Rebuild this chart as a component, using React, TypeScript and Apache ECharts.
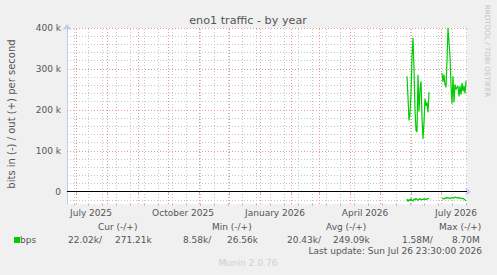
import React, { useEffect, useRef } from 'react';
import * as echarts from 'echarts';

const DAY = 86400000;
const rangeStart = '2025-06-22';
const rangeDays = 400;

// traffic, kbit/s (out = +, in = -)
const seg1Start = '2026-05-28';
const seg1Out = [282, 230, 174, 190, 240, 330, 376, 300, 200, 150, 146, 286, 196, 250, 270, 180, 129, 170, 227, 210, 218, 194, 243];
const seg1In = [18, 24, 19, 22, 17, 21, 23, 18, 20, 16, 19, 21, 18, 17, 20, 19, 18, 20, 17, 19, 18, 17, 16];
const seg2Start = '2026-07-02';
const seg2Out = [290, 268, 286, 262, 255, 320, 400, 365, 330, 260, 215, 282, 218, 262, 250, 255, 258, 233, 258, 237, 266, 245, 258, 240, 271];
const seg2In = [17, 16, 18, 15, 16, 14, 16, 15, 17, 15, 14, 16, 15, 13, 14, 15, 14, 16, 15, 16, 17, 16, 18, 20, 22];

const yTickValues = [0, 100, 200, 300, 400];
const xLabelDates = ['2025-07-16', '2025-10-16', '2026-01-16', '2026-04-16', '2026-07-16'];
const xLabelTexts = ['July 2025', 'October 2025', 'January 2026', 'April 2026', 'July 2026'];

const legendHeaders = ['Cur (-/+)', 'Min (-/+)', 'Avg (-/+)', 'Max (-/+)'];
const legendValues = ['22.02k/', '271.21k', '8.58k/', '26.56k', '20.43k/', '249.09k', '1.58M/', '8.70M'];
const lastUpdate = 'Last update: Sun Jul 26 23:30:00 2026';

const d = (s: string) => {
  const [y, m, dd] = s.split('-').map(Number);
  return Date.UTC(y, m - 1, dd);
};

const FONT = '"DejaVu Sans", sans-serif';
const TXT = '#555555';

export default function App() {
  const ref = useRef<HTMLDivElement>(null);
  useEffect(() => {
    const chart = echarts.init(ref.current!, null, { renderer: 'svg' });
    const t0 = d(rangeStart);
    const t1 = t0 + rangeDays * DAY;

    const seg = (start: string, vals: number[], sign: number) =>
      vals.map((v, i) => [d(start) + i * DAY, sign * v]);
    const gapT = d(seg1Start) + seg1Out.length * DAY;
    const outData: any[] = [...seg(seg1Start, seg1Out, 1), [gapT, null], ...seg(seg2Start, seg2Out, 1)];
    const inData: any[] = [...seg(seg1Start, seg1In, -1), [gapT, null], ...seg(seg2Start, seg2In, -1)];

    // grid positions
    const monthStarts: number[] = [];
    for (let y = 2025, m = 6; ; ) {
      const t = Date.UTC(y, m, 1);
      if (t > t1) break;
      if (t >= t0) monthStarts.push(t);
      m++;
      if (m > 11) { m = 0; y++; }
    }
    const biweekly: number[] = [];
    for (let t = d('2025-06-29'); t < t1; t += 14 * DAY) biweekly.push(t);
    const yMinor: number[] = [];
    for (let v = -20; v < 400; v += 20) if (v % 100 !== 0) yMinor.push(v);
    const yMajor = [100, 200, 300, 400];

    const gray = { color: '#c6c6c6', type: [1, 2] as any, width: 1 };
    const red = { color: '#e29a9a', type: [1, 2] as any, width: 1 };
    const gridLines: any[] = [];
    yMinor.forEach((v) => gridLines.push({ yAxis: v, lineStyle: gray }));
    biweekly.forEach((t) => gridLines.push({ xAxis: t, lineStyle: gray }));
    yMajor.forEach((v) => gridLines.push({ yAxis: v, lineStyle: red }));
    monthStarts.forEach((t) => gridLines.push({ xAxis: t, lineStyle: red }));
    gridLines.push({ yAxis: 0, lineStyle: { color: '#000000', type: 'solid', width: 1 } });

    const labelMap: Record<number, string> = {};
    xLabelDates.forEach((s, i) => (labelMap[d(s)] = xLabelTexts[i]));

    const headerX = [98, 212, 326, 439];
    const valueX = [68, 115, 183, 227, 287, 333, 402, 452];
    const txt = (text: string, x: number, y: number, opts: any = {}) => ({
      type: 'text',
      x,
      y,
      rotation: opts.rotation || 0,
      silent: true,
      style: {
        text,
        fill: opts.fill || TXT,
        font: `${opts.size || 9}px ${FONT}`,
        textAlign: opts.align || 'left',
        align: opts.align || 'left',
        textVerticalAlign: 'middle',
        verticalAlign: 'middle',
      },
    });

    const axisColor = '#c4caf0';

    chart.setOption({
      animation: false,
      backgroundColor: '#f0f0f0',
      grid: { left: 67, top: 28, width: 400, height: 176, show: true, backgroundColor: '#ffffff', borderWidth: 0 },
      xAxis: [
        {
          type: 'value',
          min: t0,
          max: t1,
          position: 'bottom',
          axisLine: { show: true, lineStyle: { color: axisColor, width: 1 }, symbol: ['none', 'arrow'], symbolSize: [7, 6], symbolOffset: [0, 4] },
          axisTick: { show: true, customValues: monthStarts, length: 2, lineStyle: { color: '#e29a9a' } },
          axisLabel: {
            customValues: xLabelDates.map(d),
            formatter: (v: number) => labelMap[v] || '',
            color: TXT,
            fontFamily: FONT,
            fontSize: 9,
            margin: 4,
          },
          splitLine: { show: false },
        },
        {
          type: 'value',
          min: t0,
          max: t1,
          position: 'bottom',
          axisLine: { show: false },
          axisTick: { show: true, customValues: biweekly, length: 2, lineStyle: { color: '#c6c6c6' } },
          axisLabel: { show: false },
          splitLine: { show: false },
        },
      ],
      yAxis: {
        type: 'value',
        min: -30,
        max: 400,
        axisLine: { show: true, lineStyle: { color: axisColor, width: 1 }, symbol: ['none', 'arrow'], symbolSize: [7, 6], symbolOffset: [0, 4] },
        axisTick: { show: false },
        axisLabel: {
          customValues: yTickValues,
          formatter: (v: number) => (v === 0 ? '0' : `${v} k`),
          color: TXT,
          fontFamily: FONT,
          fontSize: 9,
          margin: 6,
        },
        splitLine: { show: false },
      },
      series: [
        {
          type: 'line',
          data: [],
          z: 1,
          silent: true,
          markLine: {
            silent: true,
            symbol: ['none', 'none'],
            label: { show: false },
            emphasis: { disabled: true },
            data: gridLines,
          },
        },
        {
          name: 'out',
          type: 'line',
          data: outData,
          showSymbol: false,
          connectNulls: false,
          lineStyle: { color: '#00cc00', width: 1.2 },
          itemStyle: { color: '#00cc00' },
          z: 5,
          silent: true,
        },
        {
          name: 'in',
          type: 'line',
          data: inData,
          showSymbol: false,
          connectNulls: false,
          lineStyle: { color: '#00cc00', width: 1.2 },
          itemStyle: { color: '#00cc00' },
          z: 5,
          silent: true,
        },
      ],
      graphic: [
        txt('eno1 traffic - by year', 248, 20.5, { align: 'center', size: 11.2 }),
        txt('bits in (-) / out (+) per second', 11, 114, { align: 'center', size: 10, rotation: Math.PI / 2 }),
        txt('RRDTOOL / TOBI OETIKER', 487, 51, { align: 'center', size: 7.2, rotation: -Math.PI / 2, fill: '#c4c4c4' }),
        ...legendHeaders.map((h, i) => txt(h, headerX[i], 226.7)),
        { type: 'rect', shape: { x: 14, y: 237, width: 6, height: 6 }, style: { fill: '#00cc00' }, silent: true },
        txt('bps', 20, 239.5),
        ...legendValues.map((v, i) => txt(v, valueX[i], 239.5)),
        txt(lastUpdate, 482, 251, { align: 'right' }),
        txt('Munin 2.0.76', 248, 262.5, { align: 'center', fill: '#cfcfcf' }),
      ],
    });
    return () => chart.dispose();
  }, []);
  return <div ref={ref} style={{ position: 'absolute', left: 0, top: 0, width: 497, height: 275 }} />;
}
